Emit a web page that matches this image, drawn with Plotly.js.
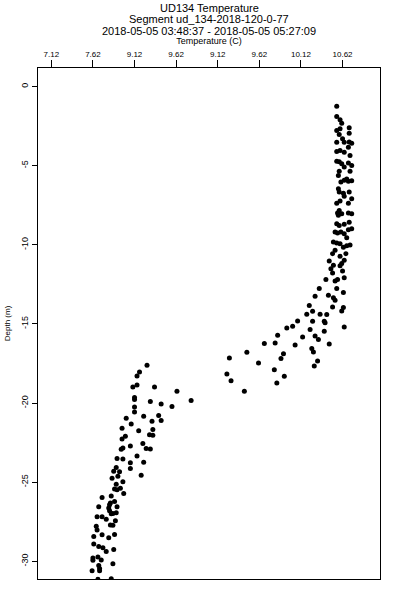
<!DOCTYPE html>
<html>
<head>
<meta charset="utf-8">
<script src="https://cdn.plot.ly/plotly-3.0.1.min.js"></script>
<style>html,body{margin:0;padding:0;background:#fff;}#chart{width:400px;height:600px;}</style>
</head>
<body>
<div id="chart"></div>
<script>
// Temperature (C) readings
const temperature = [
  10.55,10.55,10.59,10.61,10.70,10.55,10.59,10.70,10.58,10.62,
  10.64,10.55,10.70,10.73,10.69,10.55,10.59,10.64,10.71,10.55,
  10.58,10.61,10.69,10.73,10.64,10.58,10.57,10.71,10.67,10.60,
  10.64,10.69,10.73,10.57,10.58,10.63,10.70,10.64,10.73,10.59,
  10.55,10.69,10.58,10.56,10.57,10.61,10.69,10.73,10.55,10.58,
  10.64,10.70,10.53,10.56,10.60,10.64,10.69,10.73,10.67,10.51,
  10.55,10.59,10.63,10.67,10.71,10.53,10.50,10.66,10.59,10.46,
  10.51,10.48,10.50,10.64,10.61,10.59,10.62,10.42,10.53,10.56,
  10.64,10.34,10.55,10.29,10.45,10.51,10.53,10.63,10.22,10.50,
  10.63,10.61,10.19,10.26,10.35,10.43,10.08,10.26,10.40,10.41,
  9.95,10.02,10.23,10.40,10.64,9.84,10.14,10.29,10.33,9.68,
  9.81,10.05,10.46,10.25,10.27,9.47,9.26,9.61,9.91,9.88,
  10.32,10.28,9.80,9.23,9.28,9.92,9.83,9.44,
  8.80,8.63,8.57,8.44,8.36,8.31,8.41,8.44,8.23,8.33,
  8.34,8.30,8.34,8.26,8.31,8.27,8.18,8.15,8.10,8.15,
  8.12,8.12,8.12,8.12,8.02,8.08,8.17,7.97,8.01,7.97,
  8.07,8.22,7.96,7.98,7.91,7.90,7.98,8.15,8.07,8.07,
  8.23,8.20,7.87,7.94,7.92,7.85,7.98,7.95,7.90,7.88,
  7.91,7.99,7.73,7.84,7.69,7.83,7.82,7.88,7.91,7.81,
  7.82,7.90,7.86,7.84,7.67,7.73,7.78,7.89,7.66,7.67,
  7.83,7.86,7.73,7.63,7.81,7.88,7.63,7.69,7.74,7.78,
  7.87,7.62,7.62,7.68,7.72,7.86,7.69,7.70,7.70,7.61,7.68,7.84
];
// Depth (m) readings
const depth = [
  -1.24,-1.89,-2.10,-2.32,-2.61,-2.78,-2.67,-2.95,-3.03,-3.30,
  -3.52,-3.52,-3.50,-3.58,-3.83,-4.10,-4.04,-4.15,-4.36,-4.72,
  -4.75,-4.88,-4.84,-4.99,-5.09,-5.35,-5.62,-5.35,-5.85,-6.04,
  -5.93,-5.98,-5.95,-6.46,-6.67,-6.74,-6.67,-6.94,-7.09,-7.24,
  -7.37,-7.37,-7.83,-8.00,-8.14,-8.04,-8.00,-8.04,-8.67,-8.78,
  -8.71,-8.57,-9.20,-9.26,-9.20,-9.30,-9.05,-8.98,-9.55,-9.83,
  -9.89,-9.93,-10.15,-10.06,-10.02,-10.35,-10.56,-10.56,-10.73,-11.03,
  -11.30,-11.51,-11.79,-10.98,-11.19,-11.32,-11.66,-12.20,-12.29,-12.20,
  -12.08,-12.77,-12.77,-13.26,-13.19,-13.34,-13.51,-13.01,-13.83,-13.93,
  -13.97,-14.19,-14.39,-14.20,-14.39,-14.41,-14.82,-14.84,-14.84,-14.92,
  -15.26,-15.15,-15.36,-15.47,-15.20,-15.72,-15.83,-15.76,-15.99,-16.24,
  -16.21,-16.33,-16.27,-16.56,-16.77,-16.79,-17.15,-17.47,-16.88,-17.19,
  -17.34,-17.66,-17.89,-18.16,-18.60,-18.31,-18.73,-19.26,
  -19.84,-19.26,-20.22,-20.06,-18.98,-19.91,-20.79,-21.11,-20.83,-21.15,
  -21.67,-22.01,-22.03,-22.87,-22.90,-17.61,-18.04,-18.29,-18.98,-18.86,
  -19.65,-19.78,-20.25,-20.56,-20.96,-21.32,-21.76,-21.59,-22.10,-22.27,
  -22.71,-22.56,-22.92,-22.85,-23.50,-24.07,-23.53,-23.34,-23.78,-24.14,
  -23.74,-24.56,-24.31,-24.35,-24.62,-24.75,-24.98,-25.38,-25.13,-25.44,
  -25.48,-25.71,-25.97,-25.88,-26.56,-26.31,-26.43,-26.22,-26.56,-26.64,
  -26.81,-26.94,-26.98,-27.00,-27.19,-27.19,-27.34,-27.44,-27.78,-28.03,
  -27.71,-27.73,-28.33,-28.43,-28.52,-28.31,-28.91,-29.06,-29.15,-29.38,
  -29.25,-29.80,-29.94,-29.73,-29.92,-30.16,-30.26,-30.45,-30.60,-30.60,-31.14,-31.10
];
// Axis ticks as labelled in the source
const xTickVals = [7.12,7.62,8.12,8.62,9.12,9.62,10.12,10.62];
const xTickText = ["7.12","7.62","9.12","9.62","9.12","9.62","10.12","10.62"];
const yTickVals = [0,-5,-10,-15,-20,-25,-30];
const yTickText = ["0","-5","-10","-15","-20","-25","-30"];
const titleLines = ["UD134 Temperature","Segment ud_134-2018-120-0-77","2018-05-05 03:48:37 - 2018-05-05 05:27:09"];

const FONT = "Liberation Sans, Arial, Helvetica, sans-serif";

const trace = {
  type: "scatter",
  mode: "markers",
  x: temperature,
  y: depth,
  marker: {color: "#000", size: 5, symbol: "circle"},
  hoverinfo: "x+y",
  showlegend: false
};

const titleY = [1.118, 1.0958, 1.0733];
const annotations = titleLines.map((t, i) => ({
  text: t, xref: "paper", yref: "paper", x: 0.5, y: titleY[i],
  xanchor: "center", yanchor: "middle", showarrow: false,
  font: {family: FONT, size: 11, color: "#000"}
}));

const layout = {
  width: 400, height: 600,
  margin: {l: 38, r: 20, t: 68, b: 21, pad: 0},
  paper_bgcolor: "#fff", plot_bgcolor: "#fff",
  font: {family: FONT, color: "#000"},
  showlegend: false,
  annotations: annotations,
  xaxis: {
    side: "top", range: [6.96, 11.07],
    tickmode: "array", tickvals: xTickVals, ticktext: xTickText,
    ticks: "outside", ticklen: 7, tickwidth: 1, tickcolor: "#000",
    tickfont: {family: FONT, size: 8, color: "#000"},
    showline: true, linecolor: "#000", linewidth: 1, mirror: true,
    showgrid: false, zeroline: false,
    title: {text: "Temperature (C)", font: {family: FONT, size: 9, color: "#000"}, standoff: 3}
  },
  yaxis: {
    range: [-31.12, 1.17],
    tickmode: "array", tickvals: yTickVals, ticktext: yTickText,
    tickangle: -90,
    ticks: "outside", ticklen: 5, tickwidth: 1, tickcolor: "#000",
    tickfont: {family: FONT, size: 9, color: "#000"},
    showline: true, linecolor: "#000", linewidth: 1, mirror: true,
    showgrid: false, zeroline: false,
    title: {text: "Depth (m)", font: {family: FONT, size: 8, color: "#000"}, standoff: 8}
  }
};

Plotly.newPlot("chart", [trace], layout, {displayModeBar: false, staticPlot: true});
</script>
</body>
</html>
